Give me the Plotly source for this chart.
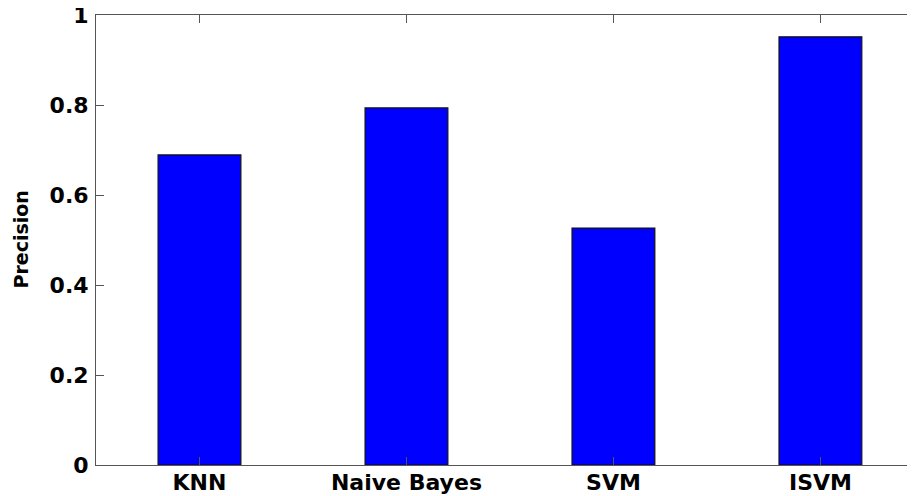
import plotly.graph_objects as go

categories = ["KNN", "Naive Bayes", "SVM", "ISVM"]
precision = [0.689, 0.7935, 0.5266, 0.9515]
positions = [1, 2, 3, 4]
ytick_vals = [0, 0.2, 0.4, 0.6, 0.8, 1]

FONT = "DejaVu Sans, Verdana, sans-serif"

# The page body has an 8px default margin, so the figure is sized to fit
# the remaining 907x488 area of the 915x496 window.
fig = go.Figure(
    go.Bar(
        x=positions,
        y=precision,
        width=0.4,
        marker=dict(color="#0000FF", line=dict(color="#111111", width=1.2)),
    )
)

fig.update_layout(
    width=907,
    height=488,
    margin=dict(l=88, r=0, t=7, b=31, autoexpand=False),
    paper_bgcolor="white",
    plot_bgcolor="white",
    showlegend=False,
    font=dict(family=FONT, color="black"),
    annotations=[
        dict(
            text="Precision",
            xref="paper",
            yref="paper",
            x=0,
            y=0.5,
            xshift=-75.5,
            xanchor="center",
            yanchor="middle",
            textangle=-90,
            showarrow=False,
            font=dict(family=FONT, size=19, weight="bold", color="black"),
        )
    ],
)

fig.update_xaxes(
    range=[0.5, 4.457],
    tickvals=positions,
    ticktext=categories,
    tickfont=dict(family=FONT, size=22, weight="bold", color="black"),
    ticks="inside",
    ticklen=8,
    tickcolor="#555555",
    showline=True,
    linecolor="#555555",
    linewidth=1,
    mirror="ticks",
    showgrid=False,
    zeroline=False,
    automargin=False,
    ticklabelstandoff=-2,
    ticklabeloverflow="allow",
)

fig.update_yaxes(
    range=[0, 1],
    tickvals=ytick_vals,
    tickfont=dict(family=FONT, size=22, weight="bold", color="black"),
    ticks="inside",
    ticklen=8,
    tickcolor="#555555",
    showline=True,
    linecolor="#555555",
    linewidth=1,
    mirror="ticks",
    showgrid=False,
    zeroline=True,
    zerolinecolor="#111111",
    zerolinewidth=1.2,
    automargin=False,
    ticklabelstandoff=2,
    ticklabeloverflow="allow",
)

fig.write_html("out.html")
